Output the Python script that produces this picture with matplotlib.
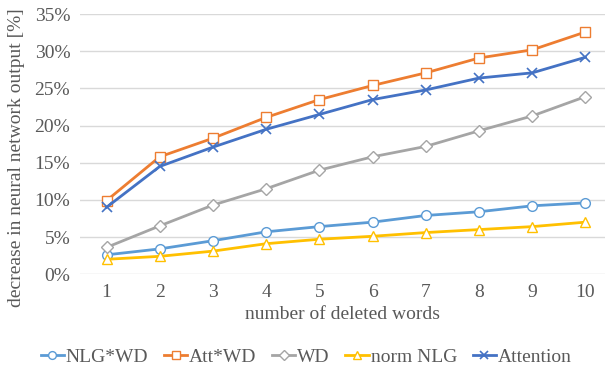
import numpy as np
import matplotlib
matplotlib.use('Agg')
import matplotlib.pyplot as plt

plt.rcParams['font.family'] = ['Liberation Serif', 'DejaVu Serif']

words = [1, 2, 3, 4, 5, 6, 7, 8, 9, 10]
nlg_wd = [2.6, 3.4, 4.5, 5.7, 6.4, 7.0, 7.9, 8.4, 9.2, 9.6]
att_wd = [9.9, 15.8, 18.3, 21.1, 23.5, 25.4, 27.1, 29.1, 30.2, 32.6]
wd = [3.6, 6.5, 9.3, 11.5, 14.0, 15.8, 17.2, 19.3, 21.3, 23.9]
norm_nlg = [2.0, 2.4, 3.1, 4.1, 4.7, 5.1, 5.6, 6.0, 6.4, 7.0]
attention = [9.0, 14.5, 17.1, 19.5, 21.5, 23.5, 24.8, 26.4, 27.1, 29.2]

series = [
    ('NLG*WD', nlg_wd, '#5B9BD5', 'o'),
    ('Att*WD', att_wd, '#ED7D31', 's'),
    ('WD', wd, '#A5A5A5', 'D'),
    ('norm NLG', norm_nlg, '#FFC000', '^'),
    ('Attention', attention, '#4472C4', 'x'),
]

fig = plt.figure(figsize=(6.10, 3.73), dpi=100)
ax = fig.add_axes([0.131, 0.265, 0.861, 0.697])

for name, vals, col, mk in series:
    if mk == 'x':
        ax.plot(words, vals, color=col, lw=2, marker=mk, ms=7, mew=1.2, label=name)
    else:
        ms = 6 if mk == 'D' else 7
        ax.plot(words, vals, color=col, lw=2, marker=mk, ms=ms, mfc='white', mew=1.0, label=name)

ax.set_xlim(0.5, 10.37)
ax.set_ylim(0, 35)
ax.set_yticks(np.arange(0, 36, 5))
ax.set_yticklabels([f'{v}%' for v in range(0, 36, 5)])
ax.set_xticks(words)
ax.grid(axis='y', color='#D9D9D9', lw=1)
ax.set_axisbelow(True)
for s in ax.spines.values():
    s.set_visible(False)
ax.tick_params(length=0, labelsize=14, colors='#595959', pad=7)
ax.set_xlabel('number of deleted words', fontsize=14, color='#595959', labelpad=4)
ax.set_ylabel('decrease in neural network output [%]', fontsize=14, color='#595959')
ax.yaxis.set_label_coords(-0.104, 0.45)

leg = fig.legend(loc='center', bbox_to_anchor=(0.502, 0.043), ncol=5, frameon=False,
                 fontsize=14, handlelength=1.2, handletextpad=0.1, columnspacing=0.8,
                 markerscale=0.8)
for t in leg.get_texts():
    t.set_color('#595959')

fig.savefig('out.png', dpi=100)
